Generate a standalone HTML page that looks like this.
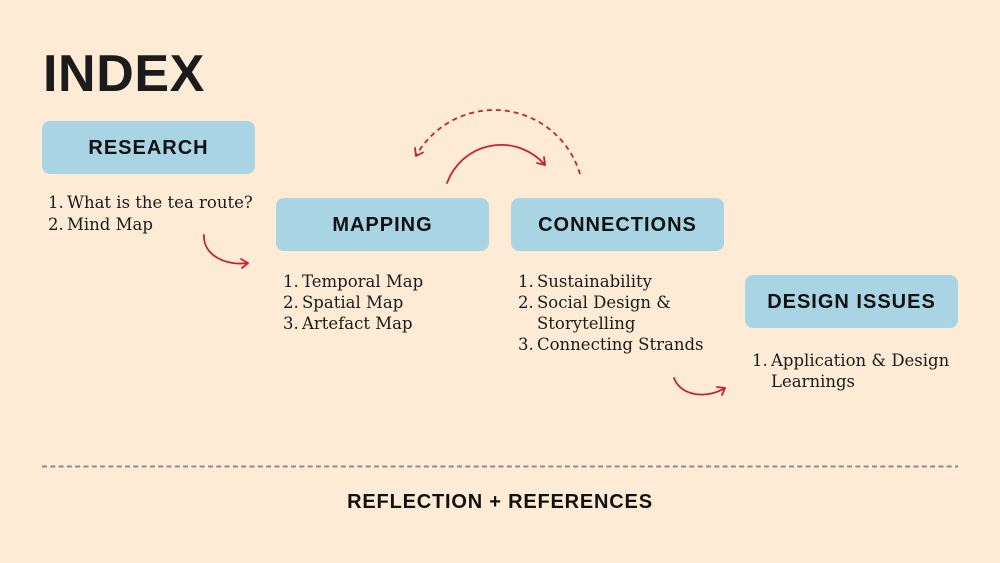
<!DOCTYPE html>
<html><head><meta charset="utf-8"><style>
html,body{margin:0;padding:0;}
body{width:1000px;height:563px;background:#feebd5;position:relative;overflow:hidden;font-family:"Liberation Sans",sans-serif;color:#161616;}
.title{position:absolute;left:43px;top:44px;font-size:52px;line-height:60px;font-weight:bold;letter-spacing:0.6px;color:#1b1b1b;}
.box{position:absolute;width:213px;height:53px;background:#a9d4e4;border-radius:8px;display:flex;align-items:center;justify-content:center;font-weight:bold;font-size:20px;letter-spacing:1px;color:#111;padding-top:1px;box-sizing:border-box;}
.list{position:absolute;font-family:"DejaVu Serif","Liberation Serif",serif;font-size:16.5px;line-height:21px;color:#1a1a1a;}
.li{position:relative;padding-left:19px;white-space:nowrap;}
.li .n{position:absolute;left:0;top:0;}
.refl{position:absolute;left:0;width:1000px;top:492px;text-align:center;font-weight:bold;font-size:20px;line-height:20px;letter-spacing:0.8px;color:#111;}
svg{position:absolute;left:0;top:0;}
</style></head><body>
<div class="title">INDEX</div>

<div class="box" style="left:42px;top:121px;">RESEARCH</div>
<div class="box" style="left:276px;top:198px;">MAPPING</div>
<div class="box" style="left:511px;top:198px;">CONNECTIONS</div>
<div class="box" style="left:745px;top:275px;">DESIGN ISSUES</div>

<div class="list" style="left:48px;top:192px;line-height:22px;">
  <div class="li"><span class="n">1.</span>What is the tea route?</div>
  <div class="li"><span class="n">2.</span>Mind Map</div>
</div>
<div class="list" style="left:283px;top:271px;">
  <div class="li"><span class="n">1.</span>Temporal Map</div>
  <div class="li"><span class="n">2.</span>Spatial Map</div>
  <div class="li"><span class="n">3.</span>Artefact Map</div>
</div>
<div class="list" style="left:518px;top:271px;">
  <div class="li"><span class="n">1.</span>Sustainability</div>
  <div class="li"><span class="n">2.</span>Social Design &amp;<br>Storytelling</div>
  <div class="li"><span class="n">3.</span>Connecting Strands</div>
</div>
<div class="list" style="left:752px;top:350px;">
  <div class="li"><span class="n">1.</span>Application &amp; Design<br>Learnings</div>
</div>

<svg width="1000" height="563" viewBox="0 0 1000 563">
  <g fill="none" stroke="#c8232c" stroke-width="1.8" stroke-linecap="round" stroke-linejoin="round">
    <!-- research -> mapping -->
    <path d="M204,235 C203,255 225,266 248,263"/>
    <polyline points="241,259 248,263 242,268"/>
    <!-- mapping -> connections solid arc -->
    <path d="M447,183 A57.7,57.7 0 0 1 545,165"/>
    <polyline points="544,157 545,165 537,163"/>
    <!-- dashed arc back -->
    <path d="M580,174 A89.5,89.5 0 0 0 416,156" stroke-dasharray="5 4" stroke-linecap="butt"/>
    <polyline points="415,148 416,156 423,152.5"/>
    <!-- connections -> design -->
    <path d="M674,378 C680,395 705,400 725,388"/>
    <polyline points="717,387 725,388 722,395"/>
  </g>
  <line x1="42" y1="466.5" x2="958" y2="466.5" stroke="#8c8c8c" stroke-width="2" stroke-dasharray="5 3.3"/>
</svg>

<div class="refl">REFLECTION + REFERENCES</div>
</body></html>
